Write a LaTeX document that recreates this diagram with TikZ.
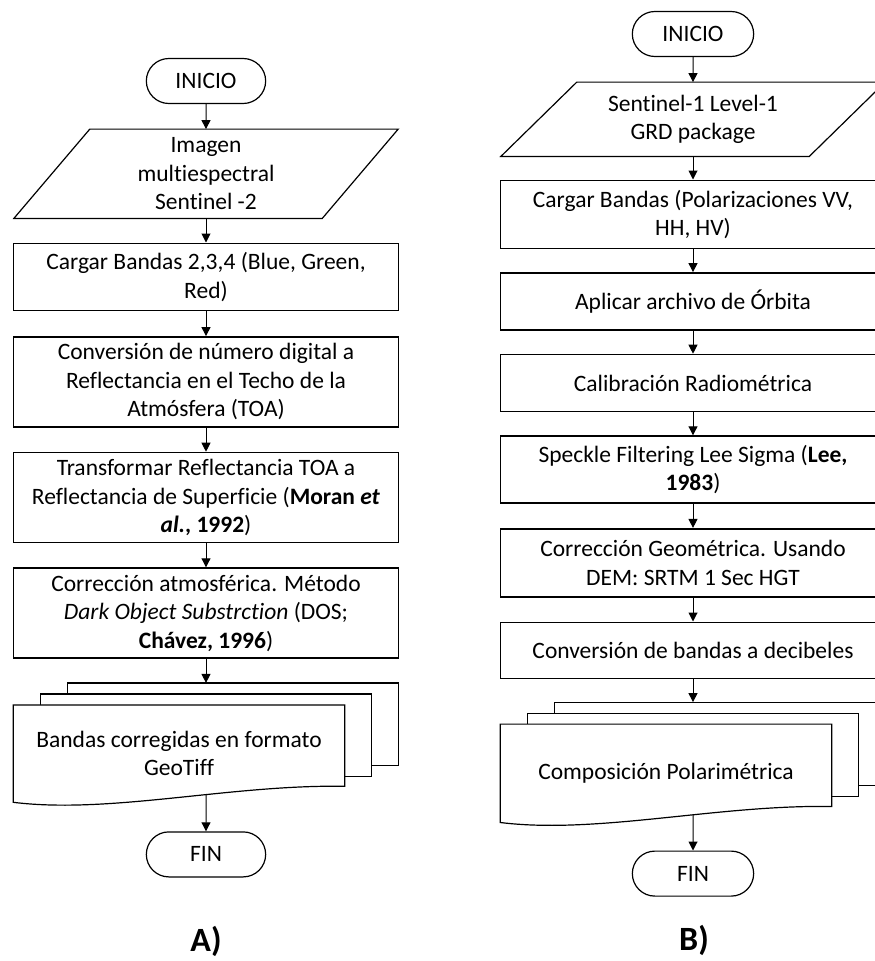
\documentclass[tikz,border=0pt]{standalone}
\usepackage{fontspec}
\setmainfont{Carlito}[Ligatures=NoCommon]
\usetikzlibrary{arrows.meta, positioning, shapes.misc, backgrounds}

\tikzset{
  term/.style={rounded rectangle, draw, line width=1.2pt, minimum width=126pt, minimum height=45pt},
  io/.style={rectangle, minimum width=308pt, align=center, inner sep=2pt},
  box/.style={rectangle, draw, line width=1.6pt, minimum width=385pt, align=center, inner ysep=2pt},
  front/.style={rectangle, minimum width=331pt, align=center},
  page/.style={draw, fill=white, line width=1.2pt},
  caption/.style={font=\fontsize{34}{40}\selectfont\bfseries}
}

% slanted frame (data) around the node #1
\newcommand{\ioframe}[1]{%
  \draw[line width=1.2pt] ([xshift=38pt]#1.north west) -- ([xshift=38pt]#1.north east)
    -- ([xshift=-38pt]#1.south east) -- ([xshift=-38pt]#1.south west) -- cycle;}

% three stacked pages behind the node #1, the front one with a wavy bottom
\newcommand{\pagestack}[1]{%
  \begin{pgfonlayer}{background}
  \draw[page] ([xshift=54pt,yshift=22pt]#1.north west) rectangle ([xshift=54pt,yshift=37pt]#1.south east);
  \draw[page] ([xshift=27pt,yshift=11pt]#1.north west) rectangle ([xshift=27pt,yshift=26pt]#1.south east);
  \draw[page] (#1.north west) -- (#1.north east) -- ([yshift=16pt]#1.south east)
    .. controls +(-114pt,2pt) and +(97pt,-12pt) .. (#1.south west) -- cycle;
  \end{pgfonlayer}}

\begin{document}
\begin{tikzpicture}[x=1pt, y=-1pt, >={Triangle[length=9pt,width=9pt]}, node distance=24pt,
  every node/.style={font=\fontsize{23.5}{28.5}\selectfont}]
\useasboundingbox (0,0) rectangle (875,961);

% A) Sentinel-2
\node[term] (a0) at (206,81) {INICIO};
\node[io, below=25pt of a0, minimum height=89pt] (a1) {Imagen\\multiespectral\\Sentinel -2};
\ioframe{a1}
\node[box, below=of a1, minimum height=67pt] (a2) {Cargar Bandas 2,3,4 (Blue, Green,\\Red)};
\node[box, below=25pt of a2, minimum height=90pt] (a3) {Conversión de número digital a\\Reflectancia en el Techo de la\\Atmósfera (TOA)};
\node[box, below=of a3, minimum height=90pt] (a4) {Transformar Reflectancia TOA a\\Reflectancia de Superficie (\textbf{Moran \textit{et}}\\\textbf{\textit{al.}, 1992})};
\node[box, below=of a4, minimum height=90pt] (a5) {Corrección atmosférica. Método\\\textit{Dark Object Substrction} (DOS;\\\textbf{Chávez, 1996})};
\node[front, below=46pt of a5, xshift=-27pt, minimum height=97pt] (a6) {Bandas corregidas en formato\\GeoTiff};
\pagestack{a6}
\coordinate (a6in) at ([xshift=27pt,yshift=22pt]a6.north);
\coordinate (a6out) at ([xshift=27pt,yshift=8pt]a6.south);
\node[term, below=29pt of a6, xshift=27pt] (a7) {FIN};
\node[caption] (capA) at (206,941) {A)};

\draw[->, line width=1pt] (a0) -- (a1);
\draw[->, line width=1pt] (a1) -- (a2);
\draw[->, line width=1pt] (a2) -- (a3);
\draw[->, line width=1pt] (a3) -- (a4);
\draw[->, line width=1pt] (a4) -- (a5);
\draw[->, line width=1pt] (a5) -- (a6in);
\draw[->, line width=1pt] (a6out) -- (a7);

% B) Sentinel-1
\node[term, minimum width=128pt] (b0) at (693,34) {INICIO};
\node[io, below=25pt of b0, minimum height=74pt] (b1) {Sentinel-1 Level-1\\GRD package};
\ioframe{b1}
\node[box, below=23pt of b1, minimum height=68pt] (b2) {Cargar Bandas (Polarizaciones VV,\\HH, HV)};
\node[box, below=23pt of b2, minimum height=57pt] (b3) {Aplicar archivo de Órbita};
\node[box, below=23pt of b3, minimum height=57pt] (b4) {Calibración Radiométrica};
\node[box, below=23pt of b4, minimum height=67pt] (b5) {Speckle Filtering Lee Sigma (\textbf{Lee,}\\\textbf{1983})};
\node[box, below=of b5, minimum height=68pt] (b6) {Corrección Geométrica. Usando\\DEM: SRTM 1 Sec HGT};
\node[box, below=of b6, minimum height=56pt] (b7) {Conversión de bandas a decibeles};
\node[front, below=45pt of b7, xshift=-27pt, minimum height=98pt] (b8) {Composición Polarimétrica};
\pagestack{b8}
\coordinate (b8in) at ([xshift=27pt,yshift=22pt]b8.north);
\coordinate (b8out) at ([xshift=27pt,yshift=8pt]b8.south);
\node[term, minimum width=128pt, below=28pt of b8, xshift=27pt] (b9) {FIN};
\node[caption] (capB) at (694,940) {B)};

\draw[->, line width=1pt] (b0) -- (b1);
\draw[->, line width=1pt] (b1) -- (b2);
\draw[->, line width=1pt] (b2) -- (b3);
\draw[->, line width=1pt] (b3) -- (b4);
\draw[->, line width=1pt] (b4) -- (b5);
\draw[->, line width=1pt] (b5) -- (b6);
\draw[->, line width=1pt] (b6) -- (b7);
\draw[->, line width=1pt] (b7) -- (b8in);
\draw[->, line width=1pt] (b8out) -- (b9);
\end{tikzpicture}
\end{document}
